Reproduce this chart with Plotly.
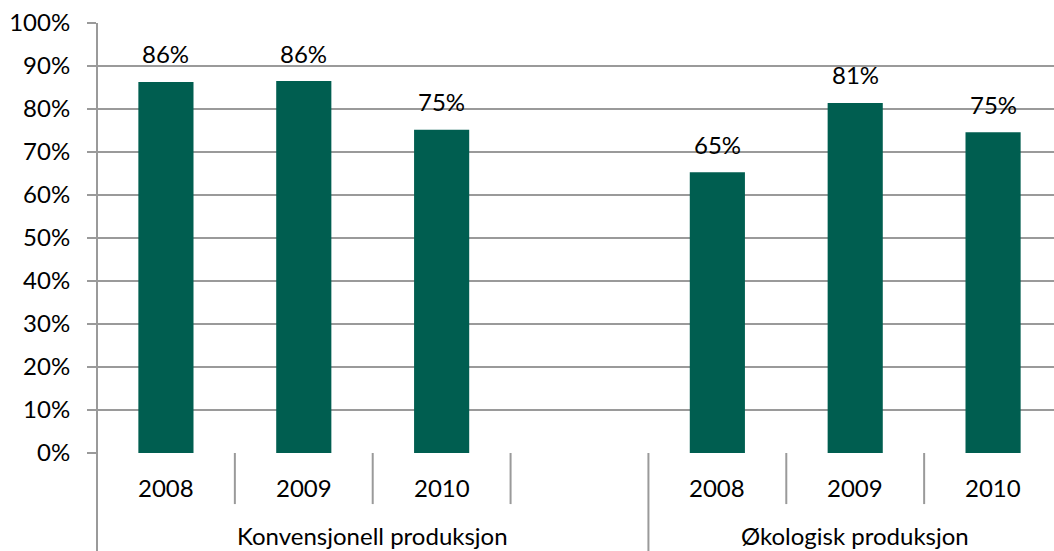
import plotly.graph_objects as go

groups = ["Konvensjonell produksjon", "Økologisk produksjon"]
group_sizes = [4, 3]
years = ["2008", "2009", "2010", "", "2008", "2009", "2010"]
values = [86.3, 86.5, 75.2, None, 65.3, 81.4, 74.6]
labels = ["86%", "86%", "75%", "", "65%", "81%", "75%"]
yticks = list(range(0, 101, 10))
yticklabels = [f"{v}%" for v in yticks]

BAR = "#005E50"
GRID = "#9A9A9A"
FONT = "Lato"
FS = 24

x = list(range(len(years)))
xr = [-0.5, 6.442]
PH = 429.4

fig = go.Figure()
fig.add_trace(go.Bar(x=x, y=values, marker=dict(color=BAR, line=dict(width=0)),
                     width=0.4, hoverinfo="skip"))

for xi, v, t in zip(x, values, labels):
    if v is not None:
        fig.add_annotation(x=xi, y=v, text=t, showarrow=False, yshift=28,
                           yanchor="middle",
                           font=dict(family=FONT, size=FS, color="#000"))

def px(xd):
    return (xd - xr[0]) / (xr[1] - xr[0])

short = -51 / PH
long_ = -98.3 / PH
shapes = []
start = 0
bounds = []
for gs in group_sizes:
    bounds.append(start - 0.5)
    start += gs
for i in range(len(years) - 1):
    b = i + 0.5
    y0 = long_ if b in bounds else short
    shapes.append(dict(type="line", xref="paper", yref="paper", x0=px(b), x1=px(b),
                       y0=0, y1=y0, line=dict(color=GRID, width=2)))
shapes.append(dict(type="line", xref="paper", yref="paper", x0=0, x1=0,
                   y0=1, y1=long_, line=dict(color=GRID, width=2)))
fig.update_layout(shapes=shapes)

for xi, yr in zip(x, years):
    if yr:
        fig.add_annotation(x=xi, xref="x", y=-34 / PH, yref="paper", text=yr,
                           yanchor="middle", showarrow=False,
                           font=dict(family=FONT, size=FS, color="#000"))
start = 0
for g, gs in zip(groups, group_sizes):
    c = start + (gs - 1) / 2
    fig.add_annotation(x=c, xref="x", y=-82 / PH, yref="paper", text=g,
                       yanchor="middle", showarrow=False,
                       font=dict(family=FONT, size=FS, color="#000"))
    start += gs

fig.update_layout(
    width=1054, height=551,
    margin=dict(l=97, r=0, t=23, b=98),
    plot_bgcolor="white", paper_bgcolor="white",
    showlegend=False,
    xaxis=dict(range=xr, showticklabels=False, showgrid=False, zeroline=False,
               ticks="", showline=False),
    yaxis=dict(range=[0, 100], tickvals=yticks, ticktext=yticklabels,
               showgrid=True, gridcolor=GRID, gridwidth=2, zeroline=False,
               ticks="outside", ticklen=9, tickcolor=GRID, tickwidth=2,
               showline=False, ticklabelstandoff=12,
               tickfont=dict(family=FONT, size=FS, color="#000")),
)

fig.write_html("out.html")
